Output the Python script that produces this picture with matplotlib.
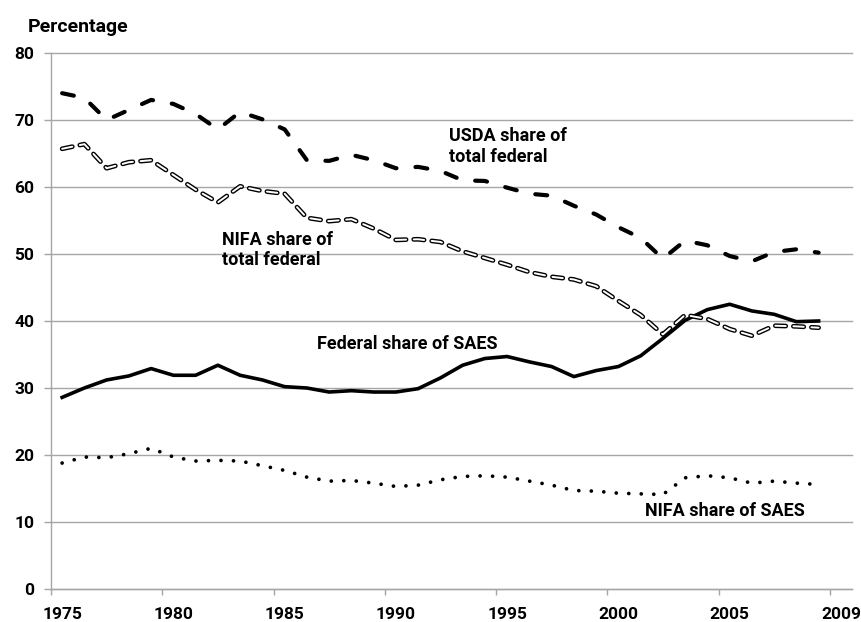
import matplotlib

matplotlib.use("Agg")
import matplotlib.pyplot as plt
import matplotlib.patheffects as pe

# data (percent)
YEARS = list(range(1975, 2010))
USDA_TOTAL = [74.0, 73.3, 70.0, 71.5, 73.0, 72.4, 70.9, 68.6, 71.2, 70.1,
              68.6, 64.0, 63.9, 64.8, 64.0, 62.8, 63.0, 62.4, 61.0, 60.9,
              59.9, 59.0, 58.7, 57.2, 55.9, 54.0, 52.4, 49.3, 52.0, 51.3,
              49.7, 48.9, 50.3, 50.7, 50.2]
NIFA_TOTAL = [65.7, 66.4, 62.8, 63.7, 64.0, 61.8, 59.6, 57.7, 60.1, 59.4,
              59.0, 55.4, 54.9, 55.2, 53.8, 52.1, 52.2, 51.8, 50.4, 49.4,
              48.4, 47.3, 46.6, 46.2, 45.2, 43.0, 40.9, 38.0, 40.9, 40.3,
              38.8, 37.8, 39.3, 39.2, 39.0]
FED_SAES = [28.6, 30.0, 31.2, 31.8, 32.9, 31.9, 31.9, 33.4, 31.9, 31.2,
            30.2, 30.0, 29.4, 29.6, 29.4, 29.4, 29.9, 31.5, 33.4, 34.4,
            34.7, 33.9, 33.2, 31.7, 32.6, 33.2, 34.8, 37.4, 40.1, 41.7,
            42.5, 41.5, 41.0, 39.9, 40.0]
NIFA_SAES = [18.8, 19.7, 19.6, 20.2, 21.0, 19.7, 19.1, 19.2, 19.1, 18.4,
             17.7, 16.7, 16.1, 16.2, 15.8, 15.3, 15.5, 16.3, 16.8, 16.9,
             16.7, 16.1, 15.5, 14.7, 14.6, 14.3, 14.2, 14.1, 16.6, 16.9,
             16.6, 15.8, 16.1, 15.8, 15.6]
TICK_LABELS = ["1975", "1980", "1985", "1990", "1995", "2000", "2005", "2009"]

plt.rcParams["font.family"] = ["Roboto", "DejaVu Sans"]
plt.rcParams["font.weight"] = "bold"
plt.rcParams["lines.scale_dashes"] = False

GRID = "#a6a6a6"
FS = 12.5

fig = plt.figure(figsize=(8.62, 6.22), dpi=100)
ax = fig.add_axes([51 / 862, 1 - 589 / 622, (852 - 51) / 862, (589 - 53) / 622])

pos = list(range(len(YEARS)))

ax.plot(pos, FED_SAES, color="black", lw=2.6, solid_joinstyle="round", zorder=3)
ax.plot(pos, USDA_TOTAL, color="black", lw=3.0, linestyle=(0, (8.6, 13.7)),
        dash_capstyle="round", zorder=3)
ax.plot(pos, NIFA_SAES, color="black", lw=2.7, linestyle=(0, (0.01, 9.0)),
        dash_capstyle="round", zorder=3)
ax.plot(pos, NIFA_TOTAL, color="white", lw=1.4, linestyle=(0, (7.5, 5.5)),
        dash_capstyle="round", zorder=4,
        path_effects=[pe.Stroke(linewidth=3.4, foreground="black"), pe.Normal()])

ax.set_xlim(-0.5, 35.5)
ax.set_ylim(0, 80)
ax.set_yticks(range(0, 90, 10))
ax.yaxis.grid(True, color=GRID, lw=1.0)
ax.set_axisbelow(True)
for gl in ax.get_ygridlines():
    gl.set_clip_on(False)

ax.set_xticks([-0.5 + 5 * i for i in range(8)])
ax.set_xticklabels([])
ax.set_xticks([5 * i for i in range(8)], minor=True)
ax.set_xticklabels(TICK_LABELS, minor=True)
ax.tick_params(axis="x", which="major", length=4.5, color=GRID, width=1.0)
ax.tick_params(axis="x", which="minor", length=0, pad=13, labelsize=FS)
ax.tick_params(axis="y", length=5, color=GRID, width=1.0, pad=7, labelsize=FS)

for s in ["top", "right"]:
    ax.spines[s].set_visible(False)
for s in ["left", "bottom"]:
    ax.spines[s].set_color(GRID)
    ax.spines[s].set_linewidth(1.0)

txt = dict(fontsize=13, fontweight="bold", ha="left", linespacing=1.2)
ax.text(17.4, 68.9, "USDA share of\ntotal federal", va="top", **txt)
ax.text(7.2, 53.5, "NIFA share of\ntotal federal", va="top", **txt)
ax.text(11.45, 37.9, "Federal share of SAES", va="top", **txt)
ax.text(26.2, 11.6, "NIFA share of SAES", va="center", **txt)

fig.text(28 / 862, 1 - 32 / 622, "Percentage", fontsize=14, fontweight="bold",
         ha="left", va="baseline")

fig.savefig("out.png", dpi=100)
